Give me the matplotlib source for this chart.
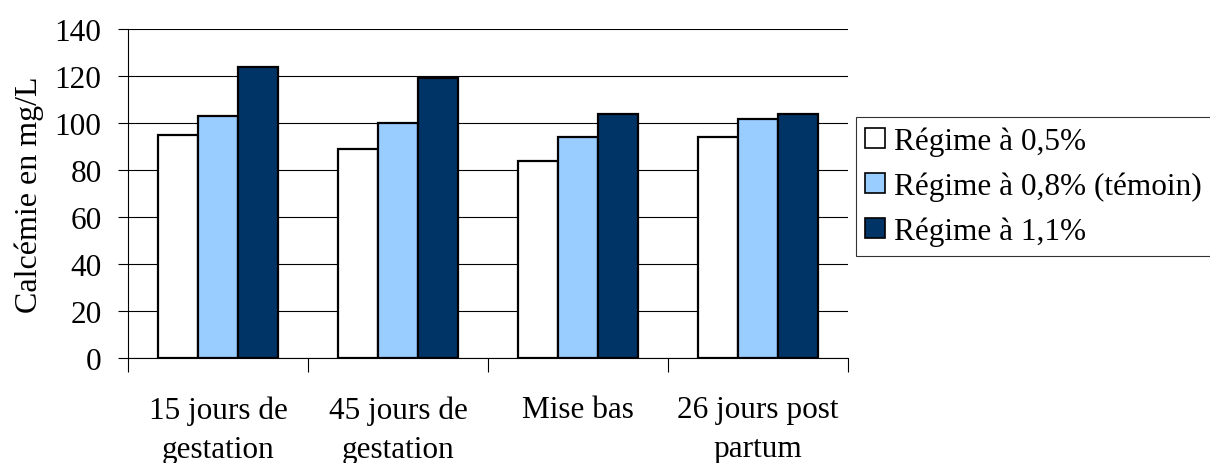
import matplotlib
matplotlib.use("Agg")
import matplotlib.pyplot as plt
import numpy as np

# Calcémie (mg/L) by sampling stage and dietary calcium level
categories = ["15 jours de\ngestation", "45 jours de\ngestation", "Mise bas", "26 jours post\npartum"]
series_names = ["Régime à 0,5%", "Régime à 0,8% (témoin)", "Régime à 1,1%"]
regime_05 = [95, 89, 84, 94]
regime_08 = [103, 100, 94, 101.5]
regime_11 = [124, 119, 104, 104]
yticks = [0, 20, 40, 60, 80, 100, 120, 140]

colors = ["#FFFFFF", "#99CCFF", "#003366"]

plt.rcParams["font.family"] = ["Liberation Serif", "DejaVu Serif"]
FS = 22.5

fig = plt.figure(figsize=(12.1, 4.64), dpi=100)
ax = fig.add_axes([128 / 1210, 1 - 359 / 464, 720 / 1210, 329 / 464])

n = len(categories)
x = np.arange(n)
bar_w = 1 / 4.5
values = [regime_05, regime_08, regime_11]
for i, (vals, name, col) in enumerate(zip(values, series_names, colors)):
    ax.bar(x + (i - 1) * bar_w, vals, width=bar_w, color=col, edgecolor="black",
           linewidth=1.6, label=name, zorder=3)

ax.set_xlim(-0.5, n - 0.5)
ax.set_ylim(0, 140)
ax.set_yticks(yticks)
ax.set_yticklabels([str(v) for v in yticks], fontsize=FS)
ax.yaxis.grid(True, color="black", linewidth=0.8, zorder=0)
ax.set_axisbelow(True)

ax.set_xticks(x)
ax.set_xticklabels(categories, fontsize=FS, linespacing=1.45)
ax.set_xticks(np.arange(-0.5, n, 1), minor=True)
ax.tick_params(axis="x", which="major", length=0, pad=27)
ax.tick_params(axis="x", which="minor", length=10, width=0.8, direction="out")
ax.tick_params(axis="y", length=7, width=0.8, direction="out", pad=12)

for s in ["top", "right"]:
    ax.spines[s].set_visible(False)
for s in ["left", "bottom"]:
    ax.spines[s].set_linewidth(0.8)
    ax.spines[s].set_color("black")

ax.set_ylabel("Calcémie en mg/L", fontsize=23, labelpad=8)

leg = ax.legend(loc="upper left", bbox_to_anchor=(856 / 1210, 1 - 118 / 464),
                bbox_transform=fig.transFigure, borderaxespad=0, fontsize=FS,
                frameon=True, fancybox=False, handlelength=0.62, handleheight=0.62,
                handletextpad=0.3, borderpad=0.3, labelspacing=0.5)
leg.get_frame().set_edgecolor("black")
leg.get_frame().set_linewidth(0.8)
for h in leg.legend_handles:
    h.set_linewidth(1.2)

fig.savefig("out.png", dpi=100)
